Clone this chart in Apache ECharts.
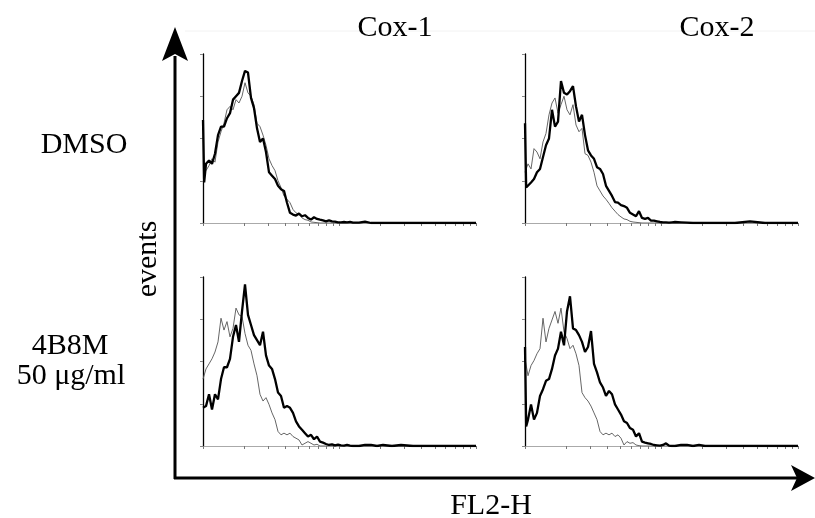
<!DOCTYPE html>
<html>
<head>
<meta charset="utf-8">
<script src="https://cdn.jsdelivr.net/npm/echarts@6/dist/echarts.min.js"></script>
<style>html,body{margin:0;padding:0;background:#fff}#c{width:815px;height:518px}</style>
</head>
<body>
<div id="c"></div>
<script>
// FL2-H fluorescence values (log axis) shared by all histograms
const fl = [1, 1.02, 1.052,1.107,1.164,1.224,1.288,1.355,1.425,1.499,1.577,1.659,
  1.745,1.835,1.931,2.031,2.136,2.247,2.364,2.487,2.616,2.752,
  2.894,3.045,3.203,3.369,3.544,3.728,3.921,4.125,4.339,4.564,
  4.801,5.05,5.312,5.588,5.878,6.183,6.504,6.842,7.197,7.571,
  7.964,8.377,8.812,9.269,9.75,10.26,10.79,11.35,11.94,12.56,
  13.89,15.38,17.01,18.83,20.83,24.24,28.21,34.55,44.5,57.31,73.83,100];

// events: DMSO / Cox-1
const dmsoCox1Thick = [305,120, 175,185,175,205,260,285,285,310,325,365,
  375,385,420,450,445,370,340,280,240,250,
  210,150,140,130,110,100,95,60,30,25,
  22,28,20,23,15,10,17,12,10,8,
  5,8,5,4,2,2,3,2,3,1,
  1,4,0,0,0,0,0,0,0,0,0,0];
const dmsoCox1Thin = [150,150, 155,170,190,180,240,270,295,335,345,335,
  365,355,375,415,385,375,350,295,285,260,
  230,190,170,155,125,105,80,70,60,40,
  30,25,15,10,8,3,2,1,0,0,
  0,0,0,0,0,0,0,0,0,0,
  0,0,0,0,0,0,0,0,0,0,0,0];
// events: DMSO / Cox-2
const dmsoCox2Thick = [295,105, 100,120,130,150,160,195,230,250,335,285,
  300,420,385,380,390,405,345,300,320,260,
  215,200,190,165,160,145,110,95,80,62,
  60,53,50,45,30,25,20,35,15,12,
  15,7,7,5,3,2,2,1,2,3,
  2,1,0,0,0,0,0,0,5,0,0,0];
const dmsoCox2Thin = [150,150, 175,160,220,210,190,240,265,320,355,370,
  325,350,375,335,320,350,290,270,280,205,
  200,180,150,110,95,80,70,58,45,35,
  25,18,12,10,5,3,2,1,0,0,
  0,0,0,0,0,0,0,0,0,0,
  0,0,0,0,0,0,0,0,0,0,0,0];
// events: 4B8M / Cox-1
const b8mCox1Thick = [113,113, 118,153,108,153,138,198,233,233,258,323,
  358,308,398,478,388,358,328,313,298,338,
  268,238,228,198,158,148,113,118,113,98,
  73,58,48,38,28,33,20,28,13,10,
  6,3,5,2,4,2,1,3,1,0,
  0,3,3,0,3,0,3,0,0,0,0,0];
const b8mCox1Thin = [198,198, 228,243,258,278,308,378,343,368,323,348,
  408,388,383,333,298,283,243,208,153,133,
  143,123,98,78,43,33,38,33,38,28,
  23,18,3,8,13,8,3,5,0,0,
  0,0,0,0,0,0,0,0,0,0,
  0,0,0,0,0,0,0,0,0,0,0,0];
// events: 4B8M / Cox-2
const b8mCox2Thick = [293,58, 78,123,78,98,148,168,193,198,228,268,
  288,338,298,398,443,348,343,328,308,278,
  293,340,243,218,188,173,148,163,153,123,
  108,93,73,68,53,48,28,38,13,10,
  8,6,3,2,1,3,8,1,0,0,
  3,3,0,3,0,0,0,0,0,0,0,0];
const b8mCox2Thin = [258,258, 208,238,253,273,288,378,308,348,373,398,
  363,408,338,318,288,298,273,238,158,143,
  133,118,98,78,43,33,38,33,38,28,
  33,23,3,13,8,10,3,1,0,0,
  0,0,0,0,0,0,0,0,0,0,
  0,0,0,0,0,0,0,0,0,0,0,0];

const xTicks = [1,2,3,4,5,6,7,8,9,10,20,30,40,50,60,70,80,90,100];
const colTitles = ['Cox-1', 'Cox-2'];
const rowLabels = ['DMSO', '4B8M', '50 \u03bcg/ml'];
const xTitle = 'FL2-H';
const yTitle = 'events';

const panels = [
  { thick: dmsoCox1Thick, thin: dmsoCox1Thin, left: 203, top: 54 },
  { thick: dmsoCox2Thick, thin: dmsoCox2Thin, left: 525, top: 54 },
  { thick: b8mCox1Thick,  thin: b8mCox1Thin,  left: 203, top: 277 },
  { thick: b8mCox2Thick,  thin: b8mCox2Thin,  left: 525, top: 277 }
];

const zip = ys => fl.map((x, i) => [x, ys[i]]);
const font = '"Liberation Serif", "Times New Roman", serif';

const grid = [], xAxis = [], yAxis = [], series = [];
panels.forEach((p, i) => {
  grid.push({ left: p.left, top: p.top, width: 273, height: 169 });
  xAxis.push({
    type: 'log', logBase: 10, min: 1, max: 100, gridIndex: i,
    axisLine: { show: true, lineStyle: { color: '#aaa', width: 1 } },
    axisTick: { show: true, customValues: xTicks, length: 3, lineStyle: { color: '#777', width: 1 } },
    axisLabel: { show: false }, splitLine: { show: false }, minorTick: { show: false }
  });
  yAxis.push({
    type: 'value', min: 0, max: 500, interval: 125, gridIndex: i,
    axisLine: { show: true, onZero: false, lineStyle: { color: '#000', width: 1.3 } },
    axisTick: { show: true, length: 3, lineStyle: { color: '#888', width: 1 } },
    axisLabel: { show: false }, splitLine: { show: false }
  });
  series.push({
    type: 'line', xAxisIndex: i, yAxisIndex: i, data: zip(p.thin),
    showSymbol: false, lineStyle: { color: '#555', width: 0.9 }, z: 3
  });
  series.push({
    type: 'line', xAxisIndex: i, yAxisIndex: i, data: zip(p.thick),
    showSymbol: false, lineStyle: { color: '#000', width: 2.3 }, z: 4
  });
});

const txt = (text, x, y, extra) => Object.assign({
  type: 'text', x: x, y: y, z: 10,
  style: { text: text, font: '30px ' + font, fill: '#000', align: 'center', verticalAlign: 'middle' }
}, extra || {});

const graphic = [
  { type: 'line', z: 1, shape: { x1: 185, y1: 31, x2: 815, y2: 31 }, style: { stroke: '#f2f2f2', lineWidth: 1 } },
  { type: 'line', z: 10, shape: { x1: 175, y1: 56, x2: 175, y2: 479 }, style: { stroke: '#000', lineWidth: 3 } },
  { type: 'line', z: 10, shape: { x1: 174, y1: 478, x2: 797, y2: 478 }, style: { stroke: '#000', lineWidth: 3 } },
  { type: 'polygon', z: 10, shape: { points: [[175, 27], [188, 61], [175, 54], [162, 61]] }, style: { fill: '#000' } },
  { type: 'polygon', z: 10, shape: { points: [[815, 478], [791, 465], [797, 478], [791, 491]] }, style: { fill: '#000' } },
  txt(colTitles[0], 395, 28),
  txt(colTitles[1], 717, 28),
  txt(rowLabels[0], 84, 145),
  txt(rowLabels[1], 70, 346),
  txt(rowLabels[2], 71, 376),
  txt(xTitle, 491, 506),
  txt(yTitle, 148, 259, { rotation: Math.PI / 2 })
];

const chart = echarts.init(document.getElementById('c'), null, { renderer: 'canvas' });
chart.setOption({
  animation: false,
  backgroundColor: '#fff',
  grid: grid, xAxis: xAxis, yAxis: yAxis, series: series,
  graphic: graphic
});
</script>
</body>
</html>
